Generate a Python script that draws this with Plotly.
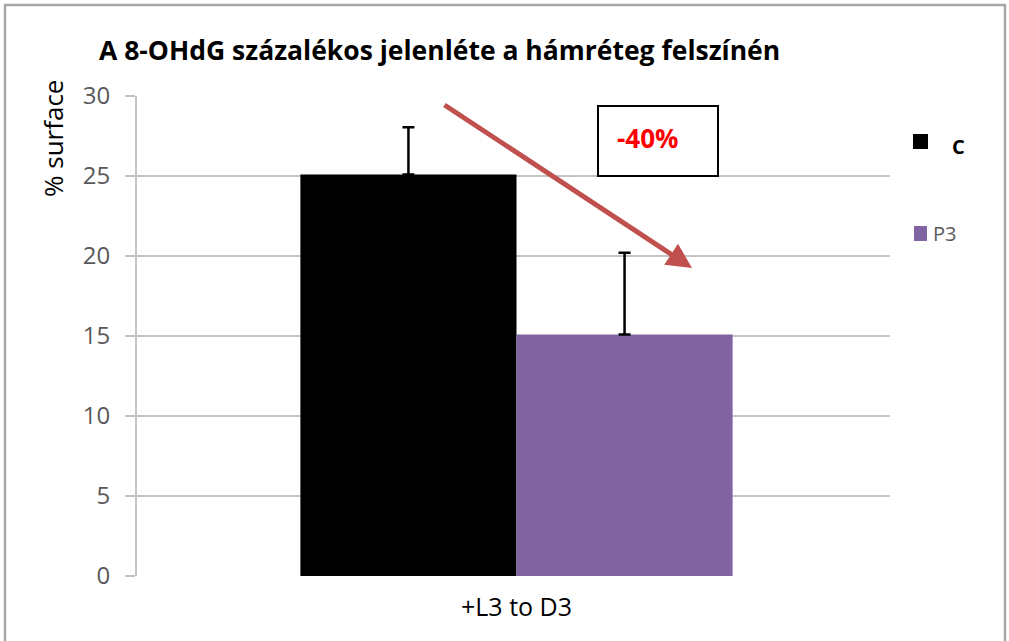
import plotly.graph_objects as go

categories = ["+L3 to D3"]
series_names = ["C", "P3"]
values_c = [25.1]
values_p3 = [15.1]
err_c = [2.95]
err_p3 = [5.1]
y_ticks = [0, 5, 10, 15, 20, 25, 30]
title_text = "A 8-OHdG százalékos jelenléte a hámréteg felszínén"
change_text = "-40%"
colors = ["#000000", "#8064A2"]

W, H = 1009, 641
L, R, T, B = 137, 119, 96, 65
pw, ph = W - L - R, H - T - B

def px(x):
    return (x - L) / pw

def py(y):
    return (H - B - y) / ph

fig = go.Figure()
for name, vals, errs, col in [(series_names[0], values_c, err_c, colors[0]),
                              (series_names[1], values_p3, err_p3, colors[1])]:
    fig.add_trace(go.Bar(
        x=categories, y=vals, name=name, marker=dict(color=col, line=dict(width=0)),
        error_y=dict(type="data", array=errs, arrayminus=[0], symmetric=False,
                     color="#000000", thickness=2.5, width=6),
        showlegend=False,
    ))

shift = 3.0 / pw
fig.update_layout(
    width=W, height=H,
    margin=dict(l=L, r=R, t=T, b=B),
    paper_bgcolor="white", plot_bgcolor="white",
    barmode="group", bargap=0.426, bargroupgap=0,
    font=dict(family="Open Sans"),
)
fig.update_xaxes(
    range=[-0.5 - shift, 0.5 - shift],
    showgrid=False, showline=False, zeroline=False, ticks="",
    tickfont=dict(family="Open Sans", size=25, color="#000000"),
    ticklabelstandoff=14,
)
fig.update_yaxes(
    range=[0, 30], tickvals=y_ticks, showgrid=True, gridcolor="#C4C4C4", gridwidth=2,
    showline=True, linecolor="#C4C4C4", linewidth=2, zeroline=False,
    ticks="outside", ticklen=10, tickcolor="#C4C4C4", tickwidth=2,
    tickfont=dict(family="Open Sans", size=24, color="#595959"),
    ticklabelstandoff=10,
)

# Title
fig.add_annotation(text="<b>" + title_text + "</b>", xref="paper", yref="paper",
                   x=px(97), y=py(50), xanchor="left", yanchor="middle", showarrow=False,
                   font=dict(family="Open Sans", size=26.5, color="#000000"))
# Y axis title
fig.add_annotation(text="% surface", xref="paper", yref="paper", x=px(53), y=py(139),
                   textangle=-90, showarrow=False, xanchor="center", yanchor="middle",
                   font=dict(family="Open Sans", size=26, color="#000000"))
# Arrow
fig.add_annotation(x=px(692), y=py(268), xref="paper", yref="paper", ax=443 - 692, ay=104 - 268,
                   axref="pixel", ayref="pixel", showarrow=True, arrowhead=2, arrowsize=1,
                   arrowwidth=5, arrowcolor="#C0504D", text="")
# Text box
fig.add_shape(type="rect", xref="paper", yref="paper", x0=px(598), x1=px(718), y0=py(176), y1=py(106),
              line=dict(color="#000000", width=2), fillcolor="white", layer="above")
fig.add_annotation(text="<b>" + change_text + "</b>", xref="paper", yref="paper", x=px(648), y=py(138),
                   xanchor="center", yanchor="middle",
                   showarrow=False, font=dict(family="Open Sans", size=26, color="#FF0000"))
# Legend (manual)
fig.add_shape(type="rect", xref="paper", yref="paper", x0=px(913), x1=px(928), y0=py(149), y1=py(134),
              line=dict(width=0), fillcolor=colors[0])
fig.add_annotation(text="<b>" + series_names[0] + "</b>", xref="paper", yref="paper", x=px(950), y=py(147),
                   xanchor="left", yanchor="middle", showarrow=False,
                   font=dict(family="Open Sans", size=20, color="#000000"))
fig.add_shape(type="rect", xref="paper", yref="paper", x0=px(914), x1=px(927), y0=py(241), y1=py(226),
              line=dict(width=0), fillcolor=colors[1])
fig.add_annotation(text=series_names[1], xref="paper", yref="paper", x=px(931), y=py(233),
                   xanchor="left", yanchor="middle", showarrow=False,
                   font=dict(family="Open Sans", size=20, color="#595959"))
# Outer border
fig.add_shape(type="rect", xref="paper", yref="paper", x0=px(5), x1=px(1005), y0=py(660), y1=py(5),
              line=dict(color="#A6A6A6", width=2.5), layer="below")

fig.write_html("out.html", config={"displayModeBar": False},
               post_script="document.body.style.margin='0';")
